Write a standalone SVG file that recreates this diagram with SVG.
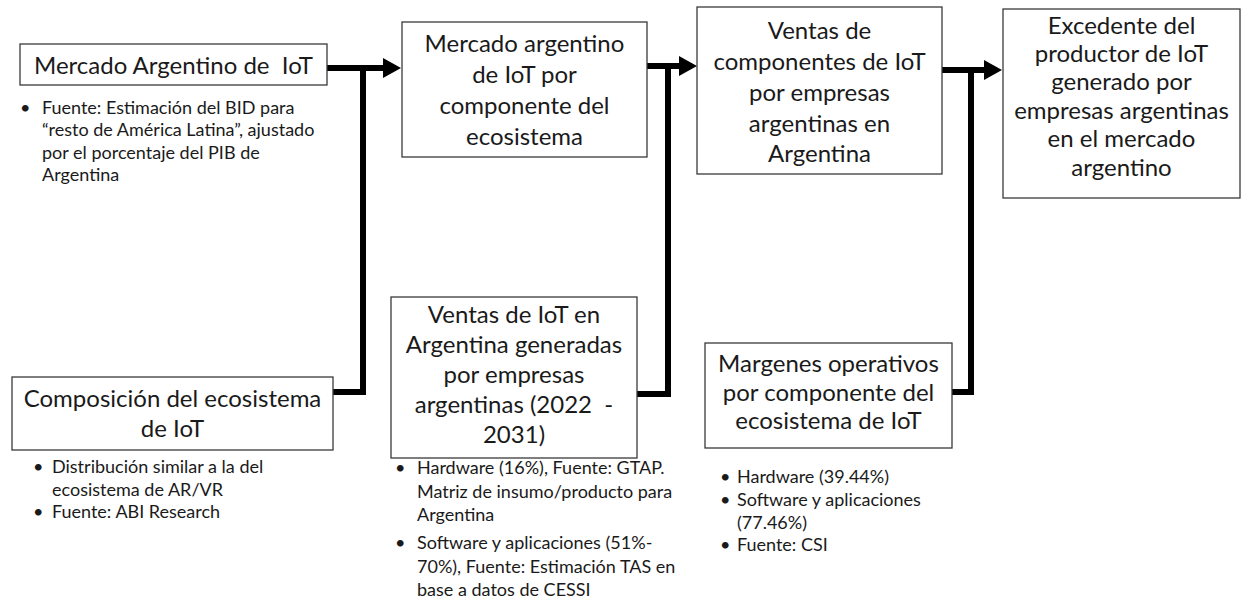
<svg xmlns="http://www.w3.org/2000/svg" width="1243" height="603" viewBox="0 0 1243 603">
<defs>
<style>
.box{fill:#fff;stroke:#3a3a3a;stroke-width:1.3}
.t{font-family:Lato,"Noto Sans",sans-serif;font-size:24px;fill:#1a1a1a;text-anchor:middle;white-space:pre}
.b{font-family:Lato,"Noto Sans",sans-serif;font-size:18px;fill:#1a1a1a}
.c{fill:none;stroke:#000;stroke-width:6;stroke-linejoin:miter}
.ah{fill:#000}
</style>
</defs>
<rect width="1243" height="603" fill="#fff"/>
<g id="connectors">
<path class="c" d="M327,68 H385 M333,392 H363 V68"/>
<polygon class="ah" points="383,58 401,68 383,78"/>
<path class="c" d="M647,66 H681 M637,394 H668 V66"/>
<polygon class="ah" points="679,56 697,66 679,76"/>
<path class="c" d="M942,70 H986 M952,392 H971 V70"/>
<polygon class="ah" points="984,60 1002,70 984,80"/>
</g>
<g id="n1">
<rect class="box" x="20" y="44" width="307" height="41"/>
<text class="t" x="173.5" y="74" xml:space="preserve">Mercado Argentino de  IoT</text>
<text class="b" x="20" y="114">•</text>
<text class="b" x="42" y="114">Fuente: Estimación del BID para</text>
<text class="b" x="42" y="136">“resto de América Latina”, ajustado</text>
<text class="b" x="42" y="159">por el porcentaje del PIB de</text>
<text class="b" x="42" y="181">Argentina</text>
</g>
<g id="n2">
<rect class="box" x="12" y="377" width="321" height="73"/>
<text class="t" x="172.5" y="407">Composición del ecosistema</text>
<text class="t" x="172.5" y="437">de IoT</text>
<text class="b" x="33" y="473">•</text>
<text class="b" x="52" y="473">Distribución similar a la del</text>
<text class="b" x="52" y="496">ecosistema de AR/VR</text>
<text class="b" x="33" y="518">•</text>
<text class="b" x="52" y="518">Fuente: ABI Research</text>
</g>
<g id="n3">
<rect class="box" x="402" y="22" width="245" height="135"/>
<text class="t" x="524.5" y="52">Mercado argentino</text>
<text class="t" x="524.5" y="83">de IoT por</text>
<text class="t" x="524.5" y="114">componente del</text>
<text class="t" x="524.5" y="145">ecosistema</text>
</g>
<g id="n4">
<rect class="box" x="391" y="297" width="246" height="161"/>
<text class="t" x="514" y="323">Ventas de IoT en</text>
<text class="t" x="514" y="353">Argentina generadas</text>
<text class="t" x="514" y="383">por empresas</text>
<text class="t" x="514" y="413" xml:space="preserve">argentinas (2022  -</text>
<text class="t" x="514" y="443">2031)</text>
<text class="b" x="395" y="474">•</text>
<text class="b" x="417" y="474">Hardware (16%), Fuente: GTAP.</text>
<text class="b" x="417" y="498">Matriz de insumo/producto para</text>
<text class="b" x="417" y="521">Argentina</text>
<text class="b" x="395" y="549">•</text>
<text class="b" x="417" y="549">Software y aplicaciones (51%-</text>
<text class="b" x="417" y="573">70%), Fuente: Estimación TAS en</text>
<text class="b" x="417" y="596">base a datos de CESSI</text>
</g>
<g id="n5">
<rect class="box" x="697" y="7" width="245" height="167"/>
<text class="t" x="819.5" y="39">Ventas de</text>
<text class="t" x="819.5" y="70">componentes de IoT</text>
<text class="t" x="819.5" y="101">por empresas</text>
<text class="t" x="819.5" y="132">argentinas en</text>
<text class="t" x="819.5" y="162">Argentina</text>
</g>
<g id="n6">
<rect class="box" x="705" y="343" width="247" height="105"/>
<text class="t" x="828.5" y="372">Margenes operativos</text>
<text class="t" x="828.5" y="401">por componente del</text>
<text class="t" x="828.5" y="429">ecosistema de IoT</text>
<text class="b" x="720" y="483">•</text>
<text class="b" x="737" y="483">Hardware (39.44%)</text>
<text class="b" x="720" y="506">•</text>
<text class="b" x="737" y="506">Software y aplicaciones</text>
<text class="b" x="737" y="529">(77.46%)</text>
<text class="b" x="720" y="551">•</text>
<text class="b" x="737" y="551">Fuente: CSI</text>
</g>
<g id="n7">
<rect class="box" x="1003" y="9" width="237" height="189"/>
<text class="t" x="1121.5" y="34">Excedente del</text>
<text class="t" x="1121.5" y="62">productor de IoT</text>
<text class="t" x="1121.5" y="90">generado por</text>
<text class="t" x="1121.5" y="119">empresas argentinas</text>
<text class="t" x="1121.5" y="147">en el mercado</text>
<text class="t" x="1121.5" y="176">argentino</text>
</g>
</svg>
